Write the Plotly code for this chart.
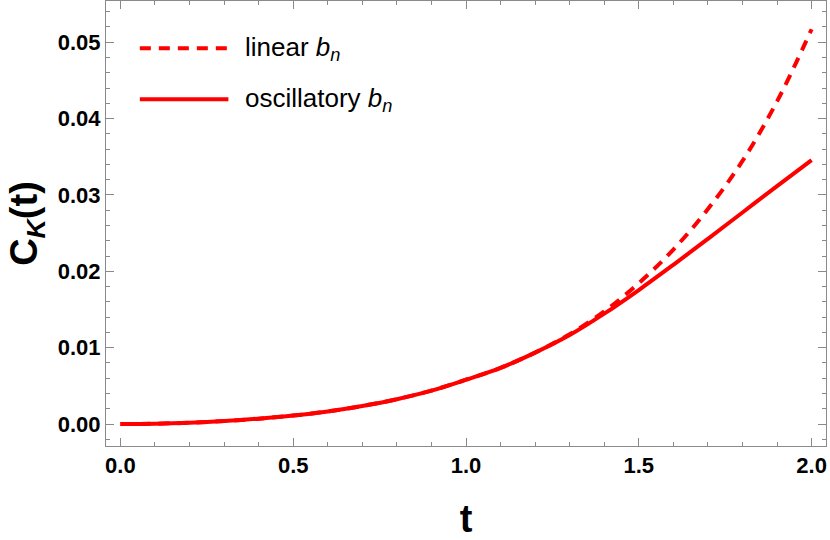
import plotly.graph_objects as go

# ---- data ----
t_vals = [0.0, 0.1, 0.2, 0.3, 0.4, 0.5, 0.6, 0.7, 0.8, 0.9, 1.0,
          1.1, 1.2, 1.3, 1.4, 1.5, 1.6, 1.7, 1.8, 1.9, 2.0]
ck_linear = [0.0, 0.00004, 0.00017, 0.00039, 0.00070, 0.00110, 0.00165,
             0.00236, 0.00325, 0.00437, 0.00580, 0.00735, 0.00935,
             0.01175, 0.01475, 0.01845, 0.02285, 0.02815, 0.03445,
             0.04225, 0.05170]
ck_oscillatory = [0.0, 0.00004, 0.00017, 0.00039, 0.00070, 0.00110, 0.00165,
                  0.00236, 0.00325, 0.00437, 0.00580, 0.00735, 0.00935,
                  0.01165, 0.01445, 0.01755, 0.02085, 0.02425, 0.02770,
                  0.03115, 0.03455]
x_ticks = [0.0, 0.5, 1.0, 1.5, 2.0]
x_tick_text = ["0.0", "0.5", "1.0", "1.5", "2.0"]
y_ticks = [0.00, 0.01, 0.02, 0.03, 0.04, 0.05]
y_tick_text = ["0.00", "0.01", "0.02", "0.03", "0.04", "0.05"]
legend_names = ["linear <i>b</i><sub><i>n</i></sub>",
                "oscillatory <i>b</i><sub><i>n</i></sub>"]

RED = "#ff0000"
GRAY = "#8a8a8a"
FONT = "Liberation Sans, Arial, sans-serif"
LW = 4
DASH = "11px,8px"

fig = go.Figure()
fig.add_trace(go.Scatter(x=t_vals, y=ck_linear, mode="lines",
                         line=dict(color=RED, width=LW, dash=DASH, shape="spline"),
                         name=legend_names[0], showlegend=False))
fig.add_trace(go.Scatter(x=t_vals, y=ck_oscillatory, mode="lines",
                         line=dict(color=RED, width=LW, shape="spline"),
                         name=legend_names[1], showlegend=False))

# manual legend (long sample lines as in the reference)
leg_rows = [(0.894, DASH, legend_names[0]), (0.779, "solid", legend_names[1])]
for yy, dash, txt in leg_rows:
    fig.add_shape(type="line", xref="paper", yref="paper",
                  x0=0.047, x1=0.170, y0=yy, y1=yy,
                  line=dict(color=RED, width=LW, dash=dash))
    fig.add_annotation(xref="paper", yref="paper", x=0.190, y=yy,
                       text=txt, showarrow=False, xanchor="left", yanchor="middle",
                       font=dict(family=FONT, size=26, color="#000"))

axis_common = dict(showline=True, linecolor=GRAY, linewidth=1, mirror="allticks",
                   ticks="inside", tickcolor=GRAY, tickwidth=1, ticklen=8,
                   showgrid=False, zeroline=False, automargin=False,
                   tickfont=dict(family=FONT, size=22, color="#000", weight="bold"))

fig.update_xaxes(range=[-0.0417, 2.0417], tickvals=x_ticks, ticktext=x_tick_text,
                 minor=dict(dtick=0.1, ticklen=4, tickcolor=GRAY, tickwidth=1,
                            ticks="inside", showgrid=False),
                 title=dict(text="t", standoff=29,
                            font=dict(family=FONT, size=38, color="#000", weight="bold")),
                 **axis_common)
fig.update_yaxes(range=[-0.00288, 0.0554], tickvals=y_ticks, ticktext=y_tick_text,
                 minor=dict(dtick=0.002, tick0=0, ticklen=4, tickcolor=GRAY, tickwidth=1,
                            ticks="inside", showgrid=False),
                 title=dict(text="C<sub><i>K</i></sub>(t)", standoff=8,
                            font=dict(family=FONT, size=38, color="#000", weight="bold")),
                 **axis_common)

fig.update_layout(width=830, height=540, plot_bgcolor="white", paper_bgcolor="white",
                  margin=dict(l=106, r=4, t=1, b=94), showlegend=False)

fig.write_html("out.html", config={"displayModeBar": False},
               post_script="document.body.style.margin='0';document.body.style.overflow='hidden';")
